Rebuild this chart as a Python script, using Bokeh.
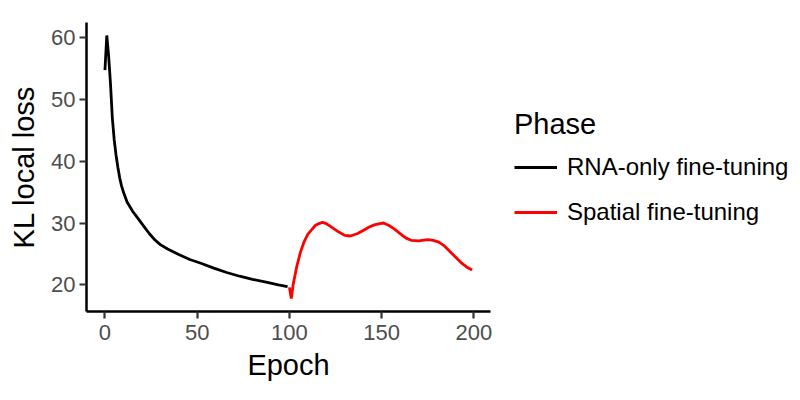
from bokeh.plotting import figure
from bokeh.models import Range1d, Legend, LegendItem, FixedTicker
from bokeh.embed import file_html
from bokeh.resources import INLINE

rna_epoch = [0, 1, 2, 3, 4, 5, 6, 7, 8, 9, 10, 12, 15, 18, 21, 24, 27, 30, 34, 40,
             46, 52, 59, 66, 73, 80, 88, 94, 99]
rna_loss = [54.7, 60.3, 57.0, 52.5, 47.0, 43.5, 41.0, 39.0, 37.3, 36.0, 35.0, 33.4,
            31.9, 30.7, 29.5, 28.3, 27.3, 26.5, 25.8, 24.9, 24.1, 23.5, 22.7, 22.0,
            21.4, 20.9, 20.4, 20.0, 19.7]

sp_epoch = [100, 101, 102, 104, 106, 108, 110, 112, 114, 116, 118, 120, 123, 127, 130,
            133, 137, 140, 143, 146, 149, 151, 154, 157, 160, 163, 166, 170, 175, 178,
            181, 184, 187, 190, 193, 196, 199]
sp_loss = [19.6, 17.8, 20.0, 23.0, 25.3, 27.0, 28.2, 28.9, 29.6, 29.9, 30.1, 29.9, 29.3,
           28.5, 28.0, 27.9, 28.3, 28.8, 29.3, 29.7, 29.9, 30.0, 29.6, 29.0, 28.3, 27.6,
           27.2, 27.1, 27.3, 27.2, 26.9, 26.3, 25.4, 24.5, 23.6, 22.9, 22.4]

x_ticks = [0, 50, 100, 150, 200]
y_ticks = [20, 30, 40, 50, 60]
labels = ["RNA-only fine-tuning", "Spatial fine-tuning"]
colors = ["#000000", "#ff0000"]

FONT = "Liberation Sans"

p = figure(frame_width=404, frame_height=289, output_backend="svg", toolbar_location=None,
           x_range=Range1d(-10, 209), y_range=Range1d(15.7, 62.4),
           min_border_left=86, min_border_right=0, min_border_top=22,
           min_border_bottom=89)
p.outline_line_color = None
p.grid.visible = False
p.background_fill_color = "white"
p.border_fill_color = "white"

r1 = p.line(rna_epoch, rna_loss, line_color=colors[0], line_width=2.8)
r2 = p.line(sp_epoch, sp_loss, line_color=colors[1], line_width=2.8)

p.xaxis.ticker = FixedTicker(ticks=x_ticks)
p.yaxis.ticker = FixedTicker(ticks=y_ticks)
for ax in (p.xaxis[0], p.yaxis[0]):
    ax.axis_line_color = "black"
    ax.axis_line_width = 2.5
    ax.major_tick_line_color = "#333333"
    ax.major_tick_line_width = 2.2
    ax.major_tick_out = 7
    ax.major_tick_in = 0
    ax.minor_tick_line_color = None
    ax.major_label_text_font = FONT
    ax.major_label_text_font_size = "22px"
    ax.major_label_text_color = "#4d4d4d"
    ax.axis_label_text_font = FONT
    ax.axis_label_text_font_size = "29px"
    ax.axis_label_text_font_style = "normal"
    ax.axis_label_text_color = "black"
p.xaxis.axis_label = "Epoch"
p.yaxis.axis_label = "KL local loss"
p.xaxis.major_label_standoff = 6
p.yaxis.major_label_standoff = 4
p.xaxis.axis_label_standoff = 6
p.yaxis.axis_label_standoff = 8

legend = Legend(items=[LegendItem(label=labels[0], renderers=[r1]),
                       LegendItem(label=labels[1], renderers=[r2])],
                location="center_left", title="Phase")
legend.title_text_font = FONT
legend.title_text_font_size = "29px"
legend.title_text_font_style = "normal"
legend.title_text_color = "black"
legend.title_standoff = 12
legend.label_text_font = FONT
legend.label_text_font_size = "24px"
legend.label_text_color = "black"
legend.glyph_width = 43
legend.glyph_height = 24
legend.label_height = 24
legend.label_standoff = 10
legend.spacing = 17
legend.padding = 0
legend.margin = 24
legend.border_line_color = None
legend.background_fill_alpha = 0
p.add_layout(legend, "right")

open("out.html", "w").write(file_html(p, INLINE))
